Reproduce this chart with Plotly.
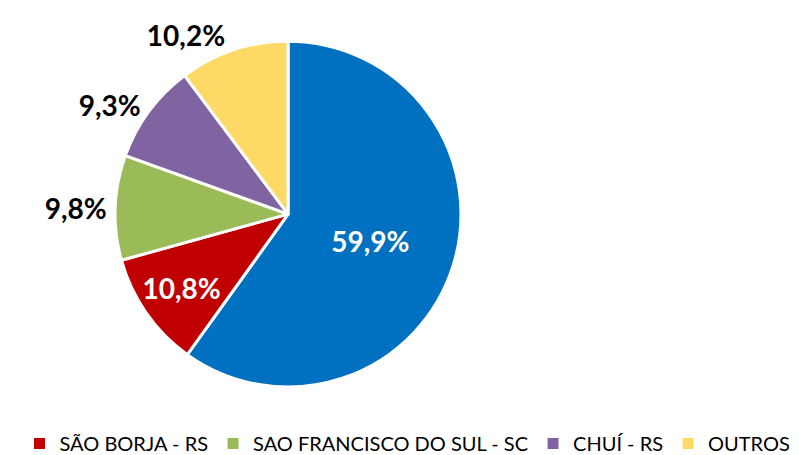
import plotly.graph_objects as go

categories = ["", "SÃO BORJA - RS", "SAO FRANCISCO DO SUL - SC", "CHUÍ - RS", "OUTROS"]
values = [59.9, 10.8, 9.8, 9.3, 10.2]
colors = ["#0070C0", "#C00000", "#9BBB59", "#8064A2", "#FFD966"]
text_pos = ["inside", "inside", "outside", "outside", "outside"]
text_colors = ["white", "white", "black", "black", "black"]

FONT = "Lato, 'Open Sans', sans-serif"

fig = go.Figure()
fig.add_trace(go.Pie(
    labels=categories,
    values=values,
    sort=False,
    direction="clockwise",
    rotation=0,
    marker=dict(colors=colors, line=dict(color="white", width=3)),
    texttemplate="<b>%{value:.1f}%</b>",
    textposition=text_pos,
    insidetextorientation="horizontal",
    textfont=dict(family=FONT, size=28, color=text_colors),
    showlegend=False,
    hoverinfo="label+value",
    domain=dict(x=[0.134, 0.567], y=[0.167, 0.927]),
))

# legend entries (blue slice has no legend entry in the reference)
for name, col in zip(categories[1:], colors[1:]):
    fig.add_trace(go.Scatter(
        x=[None], y=[None], mode="markers", name=name,
        marker=dict(symbol="square", size=11, color=col),
        showlegend=True,
    ))

fig.update_layout(
    width=799, height=455,
    margin=dict(l=0, r=0, t=0, b=0),
    paper_bgcolor="white", plot_bgcolor="white",
    separators=",.",
    font=dict(family=FONT, color="black"),
    xaxis=dict(visible=False), yaxis=dict(visible=False),
    legend=dict(
        orientation="h", x=0.5, xanchor="center", y=0.0, yanchor="bottom",
        font=dict(family=FONT, size=20, color="black"),
        itemwidth=30, tracegroupgap=0,
    ),
)

fig.write_html("out.html")
